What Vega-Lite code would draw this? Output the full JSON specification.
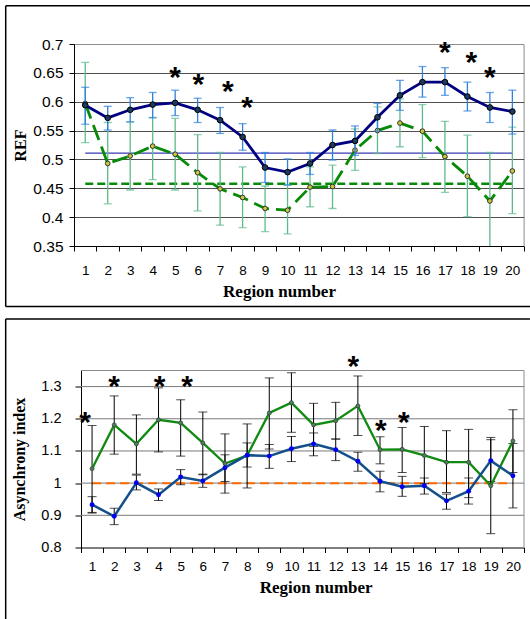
{
  "$schema": "https://vega.github.io/schema/vega-lite/v6.json",
  "padding": {"left": 4, "top": 4, "right": 0, "bottom": 0},
  "background": "white",
  "spacing": 9.5,
  "config": {
    "view": {"stroke": "#8c8c8c", "strokeWidth": 1},
    "axis": {"labelFont": "Liberation Sans", "titleFont": "Liberation Serif", "titleFontWeight": "bold", "labelColor": "#000", "titleColor": "#000", "domainColor": "#000", "tickColor": "#000", "domainWidth": 1, "tickWidth": 1}
  },
  "datasets": {
    "ref": [
      {"r": 1, "b": 0.594, "blo": 0.561, "bhi": 0.625, "g": 0.597, "glo": 0.529, "ghi": 0.668},
      {"r": 2, "b": 0.572, "blo": 0.551, "bhi": 0.592, "g": 0.493, "glo": 0.423, "ghi": 0.564},
      {"r": 3, "b": 0.586, "blo": 0.565, "bhi": 0.607, "g": 0.506, "glo": 0.447, "ghi": 0.565},
      {"r": 4, "b": 0.595, "blo": 0.572, "bhi": 0.616, "g": 0.523, "glo": 0.465, "ghi": 0.573},
      {"r": 5, "b": 0.598, "blo": 0.576, "bhi": 0.620, "g": 0.509, "glo": 0.447, "ghi": 0.571},
      {"r": 6, "b": 0.586, "blo": 0.564, "bhi": 0.606, "g": 0.477, "glo": 0.411, "ghi": 0.543},
      {"r": 7, "b": 0.568, "blo": 0.545, "bhi": 0.590, "g": 0.449, "glo": 0.386, "ghi": 0.512},
      {"r": 8, "b": 0.539, "blo": 0.516, "bhi": 0.562, "g": 0.434, "glo": 0.382, "ghi": 0.487},
      {"r": 9, "b": 0.486, "blo": 0.460, "bhi": 0.512, "g": 0.415, "glo": 0.375, "ghi": 0.454},
      {"r": 10, "b": 0.478, "blo": 0.456, "bhi": 0.501, "g": 0.412, "glo": 0.371, "ghi": 0.455},
      {"r": 11, "b": 0.493, "blo": 0.474, "bhi": 0.512, "g": 0.452, "glo": 0.418, "ghi": 0.487},
      {"r": 12, "b": 0.525, "blo": 0.499, "bhi": 0.551, "g": 0.453, "glo": 0.415, "ghi": 0.490},
      {"r": 13, "b": 0.532, "blo": 0.507, "bhi": 0.558, "g": 0.516, "glo": 0.481, "ghi": 0.553},
      {"r": 14, "b": 0.573, "blo": 0.549, "bhi": 0.597, "g": 0.550, "glo": 0.510, "ghi": 0.591},
      {"r": 15, "b": 0.611, "blo": 0.585, "bhi": 0.637, "g": 0.563, "glo": 0.522, "ghi": 0.605},
      {"r": 16, "b": 0.634, "blo": 0.608, "bhi": 0.661, "g": 0.549, "glo": 0.503, "ghi": 0.595},
      {"r": 17, "b": 0.634, "blo": 0.611, "bhi": 0.659, "g": 0.505, "glo": 0.443, "ghi": 0.566},
      {"r": 18, "b": 0.609, "blo": 0.584, "bhi": 0.634, "g": 0.471, "glo": 0.401, "ghi": 0.542},
      {"r": 19, "b": 0.590, "blo": 0.564, "bhi": 0.616, "g": 0.428, "glo": 0.340, "ghi": 0.512},
      {"r": 20, "b": 0.583, "blo": 0.544, "bhi": 0.620, "g": 0.480, "glo": 0.406, "ghi": 0.556}
    ],
    "asyn": [
      {"r": 1, "g": 1.045, "glo": 0.909, "ghi": 1.179, "b": 0.933, "blo": 0.907, "bhi": 0.958},
      {"r": 2, "g": 1.181, "glo": 1.090, "ghi": 1.271, "b": 0.897, "blo": 0.871, "bhi": 0.922},
      {"r": 3, "g": 1.122, "glo": 1.028, "ghi": 1.212, "b": 1.001, "blo": 0.979, "bhi": 1.025},
      {"r": 4, "g": 1.197, "glo": 1.097, "ghi": 1.296, "b": 0.964, "blo": 0.946, "bhi": 0.982},
      {"r": 5, "g": 1.187, "glo": 1.084, "ghi": 1.259, "b": 1.019, "blo": 0.995, "bhi": 1.042},
      {"r": 6, "g": 1.125, "glo": 1.026, "ghi": 1.221, "b": 1.007, "blo": 0.987, "bhi": 1.028},
      {"r": 7, "g": 1.061, "glo": 0.969, "ghi": 1.153, "b": 1.048, "blo": 1.005, "bhi": 1.088},
      {"r": 8, "g": 1.086, "glo": 0.985, "ghi": 1.184, "b": 1.087, "blo": 1.050, "bhi": 1.125},
      {"r": 9, "g": 1.218, "glo": 1.106, "ghi": 1.327, "b": 1.084, "blo": 1.046, "bhi": 1.120},
      {"r": 10, "g": 1.250, "glo": 1.158, "ghi": 1.343, "b": 1.107, "blo": 1.067, "bhi": 1.145},
      {"r": 11, "g": 1.181, "glo": 1.114, "ghi": 1.248, "b": 1.122, "blo": 1.085, "bhi": 1.156},
      {"r": 12, "g": 1.194, "glo": 1.137, "ghi": 1.251, "b": 1.104, "blo": 1.070, "bhi": 1.137},
      {"r": 13, "g": 1.240, "glo": 1.148, "ghi": 1.333, "b": 1.068, "blo": 1.037, "bhi": 1.096},
      {"r": 14, "g": 1.104, "glo": 1.060, "ghi": 1.144, "b": 1.006, "blo": 0.973, "bhi": 1.037},
      {"r": 15, "g": 1.105, "glo": 1.033, "ghi": 1.173, "b": 0.989, "blo": 0.959, "bhi": 1.021},
      {"r": 16, "g": 1.086, "glo": 0.998, "ghi": 1.176, "b": 0.992, "blo": 0.966, "bhi": 1.016},
      {"r": 17, "g": 1.065, "glo": 0.971, "ghi": 1.163, "b": 0.945, "blo": 0.919, "bhi": 0.966},
      {"r": 18, "g": 1.065, "glo": 0.955, "ghi": 1.167, "b": 0.975, "blo": 0.935, "bhi": 1.016},
      {"r": 19, "g": 0.992, "glo": 0.843, "ghi": 1.142, "b": 1.070, "blo": 1.005, "bhi": 1.135},
      {"r": 20, "g": 1.131, "glo": 1.033, "ghi": 1.228, "b": 1.023, "blo": 0.923, "bhi": 1.123}
    ],
    "gridBot": [{"v": 0.9}, {"v": 1.0}, {"v": 1.1}, {"v": 1.2}, {"v": 1.3}],
    "starsTop": [
      {"x": 5.0, "y": 0.651}, {"x": 6.03, "y": 0.639}, {"x": 7.34, "y": 0.627}, {"x": 8.2, "y": 0.600},
      {"x": 17.0, "y": 0.694}, {"x": 18.17, "y": 0.677}, {"x": 19.0, "y": 0.652}
    ],
    "starsBot": [
      {"x": 0.68, "y": 1.207}, {"x": 1.99, "y": 1.316}, {"x": 4.05, "y": 1.316}, {"x": 5.29, "y": 1.316},
      {"x": 12.79, "y": 1.381}, {"x": 14.04, "y": 1.181}, {"x": 15.08, "y": 1.205}
    ]
  },
  "vconcat": [
    {
      "width": 449.6,
      "height": 202,
      "data": {"name": "ref"},
      "layer": [
        {
          "data": {"values": [{}]},
          "mark": {"type": "rule", "color": "#000", "strokeWidth": 1.5, "clip": false},
          "encoding": {
            "x": {"datum": -2.538, "type": "quantitative", "scale": {"domain": [0.5, 20.5], "nice": false, "zero": false},
              "axis": {"title": "Region number", "values": [0.5,1,1.5,2,2.5,3,3.5,4,4.5,5,5.5,6,6.5,7,7.5,8,8.5,9,9.5,10,10.5,11,11.5,12,12.5,13,13.5,14,14.5,15,15.5,16,16.5,17,17.5,18,18.5,19,19.5,20,20.5],
                "tickCount": 100,
                "labelExpr": "datum.value % 1 === 0 ? toString(datum.value) : ''",
                "tickOpacity": {"condition": {"test": "datum.value % 1 !== 0", "value": 1}, "value": 0},
                "grid": false, "tickSize": 5, "labelFontSize": 13.5, "labelPadding": 12, "labelOverlap": false, "labelFlush": false, "labelBound": false,
                "titleFontSize": 17, "titleX": 205, "titleY": 50, "titleBaseline": "alphabetic", "titleAlign": "center"}},
            "x2": {"datum": 20.785},
            "y": {"datum": 0.7664, "type": "quantitative", "scale": {"domain": [0.35, 0.7], "nice": false, "zero": false},
              "axis": {"title": "REF", "values": [0.35,0.4,0.45,0.5,0.55,0.6,0.65,0.7], "tickCount": 100, "format": "~g", "grid": true, "gridColor": "#222", "gridWidth": 0.8,
                "gridOpacity": {"condition": {"test": "datum.value < 0.36 || datum.value > 0.69", "value": 0}, "value": 1},
                "labelOverlap": false,
                "tickSize": 5, "labelFontSize": 15.5, "labelPadding": 6, "titleFontSize": 16, "titleX": -54, "titleBaseline": "middle"}}
          }
        },
        {
          "data": {"values": [{}]},
          "mark": {"type": "rule", "color": "#000", "strokeWidth": 1.5, "clip": false},
          "encoding": {
            "x": {"datum": -2.538, "type": "quantitative"},
            "x2": {"datum": 20.785},
            "y": {"datum": 0.2452, "type": "quantitative"}
          }
        },
        {
          "data": {"values": [{}]},
          "mark": {"type": "rule", "color": "#000", "strokeWidth": 1.5, "clip": false},
          "encoding": {
            "x": {"datum": -2.538, "type": "quantitative"},
            "y": {"datum": 0.7664, "type": "quantitative"},
            "y2": {"datum": 0.2452}
          }
        },
        {
          "data": {"values": [{}]},
          "mark": {"type": "rule", "color": "#3a3ab4", "strokeWidth": 1.3},
          "encoding": {
            "x": {"datum": 1, "type": "quantitative"},
            "x2": {"datum": 20},
            "y": {"datum": 0.511, "type": "quantitative"}
          }
        },
        {
          "data": {"values": [{}]},
          "mark": {"type": "rule", "color": "#0a8a0a", "strokeWidth": 2.5, "strokeDash": [8, 4]},
          "encoding": {
            "x": {"datum": 1, "type": "quantitative"},
            "x2": {"datum": 20},
            "y": {"datum": 0.458, "type": "quantitative"}
          }
        },
        {
          "mark": {"type": "rule", "color": "#5cba8c", "strokeWidth": 1.3, "clip": true},
          "encoding": {
            "x": {"field": "r", "type": "quantitative"},
            "y": {"field": "glo", "type": "quantitative"},
            "y2": {"field": "ghi"}
          }
        },
        {
          "mark": {"type": "tick", "orient": "horizontal", "size": 8, "thickness": 1.3, "color": "#5cba8c", "clip": true},
          "encoding": {
            "x": {"field": "r", "type": "quantitative"},
            "y": {"field": "glo", "type": "quantitative"}
          }
        },
        {
          "mark": {"type": "tick", "orient": "horizontal", "size": 8, "thickness": 1.3, "color": "#5cba8c", "clip": true},
          "encoding": {
            "x": {"field": "r", "type": "quantitative"},
            "y": {"field": "ghi", "type": "quantitative"}
          }
        },
        {
          "mark": {"type": "line", "color": "#078a07", "strokeWidth": 2.8, "strokeDash": [16, 7]},
          "encoding": {
            "x": {"field": "r", "type": "quantitative"},
            "y": {"field": "g", "type": "quantitative"}
          }
        },
        {
          "mark": {"type": "point", "filled": true, "fill": "#c8c83c", "stroke": "#333", "strokeWidth": 1, "size": 22, "opacity": 1},
          "encoding": {
            "x": {"field": "r", "type": "quantitative"},
            "y": {"field": "g", "type": "quantitative"}
          }
        },
        {
          "mark": {"type": "rule", "color": "#2c80e0", "strokeWidth": 1.3},
          "encoding": {
            "x": {"field": "r", "type": "quantitative"},
            "y": {"field": "blo", "type": "quantitative"},
            "y2": {"field": "bhi"}
          }
        },
        {
          "mark": {"type": "tick", "orient": "horizontal", "size": 8, "thickness": 1.3, "color": "#2c80e0"},
          "encoding": {
            "x": {"field": "r", "type": "quantitative"},
            "y": {"field": "blo", "type": "quantitative"}
          }
        },
        {
          "mark": {"type": "tick", "orient": "horizontal", "size": 8, "thickness": 1.3, "color": "#2c80e0"},
          "encoding": {
            "x": {"field": "r", "type": "quantitative"},
            "y": {"field": "bhi", "type": "quantitative"}
          }
        },
        {
          "mark": {"type": "line", "color": "#000080", "strokeWidth": 2.8},
          "encoding": {
            "x": {"field": "r", "type": "quantitative"},
            "y": {"field": "b", "type": "quantitative"}
          }
        },
        {
          "mark": {"type": "point", "filled": true, "fill": "#1c3a5e", "stroke": "#000", "strokeWidth": 1, "size": 32, "opacity": 1},
          "encoding": {
            "x": {"field": "r", "type": "quantitative"},
            "y": {"field": "b", "type": "quantitative"}
          }
        },
        {
          "data": {"name": "starsTop"},
          "mark": {"type": "text", "text": "*", "font": "Liberation Sans", "fontWeight": "bold", "fontSize": 30, "baseline": "alphabetic", "align": "center", "dy": 15, "color": "#000"},
          "encoding": {
            "x": {"field": "x", "type": "quantitative"},
            "y": {"field": "y", "type": "quantitative"}
          }
        }
      ]
    },
    {
      "width": 450,
      "height": 177,
      "view": {"stroke": null},
      "data": {"name": "asyn"},
      "layer": [
        {
          "data": {"name": "gridBot"},
          "mark": {"type": "rule", "color": "#7a7a7a", "strokeWidth": 1},
          "encoding": {
            "x": {"datum": 0.5, "type": "quantitative", "scale": {"domain": [0.5, 20.5], "range": [7, 450], "nice": false, "zero": false},
              "axis": {"title": "Region number", "values": [0.5,1,1.5,2,2.5,3,3.5,4,4.5,5,5.5,6,6.5,7,7.5,8,8.5,9,9.5,10,10.5,11,11.5,12,12.5,13,13.5,14,14.5,15,15.5,16,16.5,17,17.5,18,18.5,19,19.5,20,20.5],
                "tickCount": 100,
                "labelExpr": "datum.value % 1 === 0 ? toString(datum.value) : ''",
                "tickOpacity": {"condition": {"test": "datum.value % 1 !== 0", "value": 1}, "value": 0},
                "grid": false, "tickSize": 5, "labelFontSize": 13.5, "labelPadding": 7, "labelOverlap": false, "labelFlush": false, "labelBound": false,
                "titleFontSize": 17, "titleX": 241.7, "titleY": 45, "titleBaseline": "alphabetic", "titleAlign": "center"}},
            "x2": {"datum": 20.5},
            "y": {"field": "v", "type": "quantitative", "scale": {"domain": [0.8, 1.35], "nice": false, "zero": false},
              "axis": {"title": "Asynchrony index", "values": [0.8,0.9,1,1.1,1.2,1.3], "tickCount": 100, "format": "~g", "grid": false,
                "labelOverlap": false, "offset": -7,
                "tickSize": 6, "labelFontSize": 14.5, "labelPadding": 14, "titleFontSize": 16, "titleX": -61.5, "titleBaseline": "middle"}}
          }
        },
        {
          "data": {"values": [{}]},
          "mark": {"type": "rule", "color": "#8c8c8c", "strokeWidth": 1},
          "encoding": {
            "x": {"datum": 0.5, "type": "quantitative"},
            "x2": {"datum": 20.5},
            "y": {"datum": 1.35, "type": "quantitative"}
          }
        },
        {
          "data": {"values": [{}]},
          "mark": {"type": "rule", "color": "#8c8c8c", "strokeWidth": 1},
          "encoding": {
            "x": {"datum": 20.5, "type": "quantitative"},
            "y": {"datum": 0.8, "type": "quantitative"},
            "y2": {"datum": 1.35}
          }
        },
        {
          "data": {"values": [{}]},
          "mark": {"type": "rule", "color": "#000", "strokeWidth": 1.5, "clip": false},
          "encoding": {
            "x": {"datum": -2.9, "type": "quantitative"},
            "x2": {"datum": 20.77},
            "y": {"datum": 1.51, "type": "quantitative"}
          }
        },
        {
          "data": {"values": [{}]},
          "mark": {"type": "rule", "color": "#000", "strokeWidth": 1.5, "clip": false},
          "encoding": {
            "x": {"datum": -2.9, "type": "quantitative"},
            "y": {"datum": 1.51, "type": "quantitative"},
            "y2": {"datum": 0.573}
          }
        },
        {
          "data": {"values": [{}]},
          "mark": {"type": "rule", "color": "#ff6a00", "strokeWidth": 2, "strokeDash": [9, 5]},
          "encoding": {
            "x": {"datum": 1, "type": "quantitative"},
            "x2": {"datum": 20},
            "y": {"datum": 1, "type": "quantitative"}
          }
        },
        {
          "mark": {"type": "rule", "color": "#000", "strokeWidth": 1},
          "encoding": {
            "x": {"field": "r", "type": "quantitative"},
            "y": {"field": "glo", "type": "quantitative"},
            "y2": {"field": "ghi"}
          }
        },
        {
          "mark": {"type": "tick", "orient": "horizontal", "size": 9, "thickness": 1, "color": "#000"},
          "encoding": {
            "x": {"field": "r", "type": "quantitative"},
            "y": {"field": "glo", "type": "quantitative"}
          }
        },
        {
          "mark": {"type": "tick", "orient": "horizontal", "size": 9, "thickness": 1, "color": "#000"},
          "encoding": {
            "x": {"field": "r", "type": "quantitative"},
            "y": {"field": "ghi", "type": "quantitative"}
          }
        },
        {
          "mark": {"type": "rule", "color": "#000", "strokeWidth": 1},
          "encoding": {
            "x": {"field": "r", "type": "quantitative"},
            "y": {"field": "blo", "type": "quantitative"},
            "y2": {"field": "bhi"}
          }
        },
        {
          "mark": {"type": "tick", "orient": "horizontal", "size": 9, "thickness": 1, "color": "#000"},
          "encoding": {
            "x": {"field": "r", "type": "quantitative"},
            "y": {"field": "blo", "type": "quantitative"}
          }
        },
        {
          "mark": {"type": "tick", "orient": "horizontal", "size": 9, "thickness": 1, "color": "#000"},
          "encoding": {
            "x": {"field": "r", "type": "quantitative"},
            "y": {"field": "bhi", "type": "quantitative"}
          }
        },
        {
          "mark": {"type": "line", "color": "#108a10", "strokeWidth": 2.3},
          "encoding": {
            "x": {"field": "r", "type": "quantitative"},
            "y": {"field": "g", "type": "quantitative"}
          }
        },
        {
          "mark": {"type": "point", "filled": true, "fill": "#5a7a64", "stroke": "#2a4a34", "strokeWidth": 0.8, "size": 16, "opacity": 1},
          "encoding": {
            "x": {"field": "r", "type": "quantitative"},
            "y": {"field": "g", "type": "quantitative"}
          }
        },
        {
          "mark": {"type": "line", "color": "#134f8a", "strokeWidth": 2.5},
          "encoding": {
            "x": {"field": "r", "type": "quantitative"},
            "y": {"field": "b", "type": "quantitative"}
          }
        },
        {
          "mark": {"type": "point", "filled": true, "fill": "#0000ee", "size": 24, "opacity": 1},
          "encoding": {
            "x": {"field": "r", "type": "quantitative"},
            "y": {"field": "b", "type": "quantitative"}
          }
        },
        {
          "data": {"name": "starsBot"},
          "mark": {"type": "text", "text": "*", "font": "Liberation Sans", "fontWeight": "bold", "fontSize": 30, "baseline": "alphabetic", "align": "center", "dy": 15, "color": "#000"},
          "encoding": {
            "x": {"field": "x", "type": "quantitative"},
            "y": {"field": "y", "type": "quantitative"}
          }
        }
      ]
    }
  ]
}
